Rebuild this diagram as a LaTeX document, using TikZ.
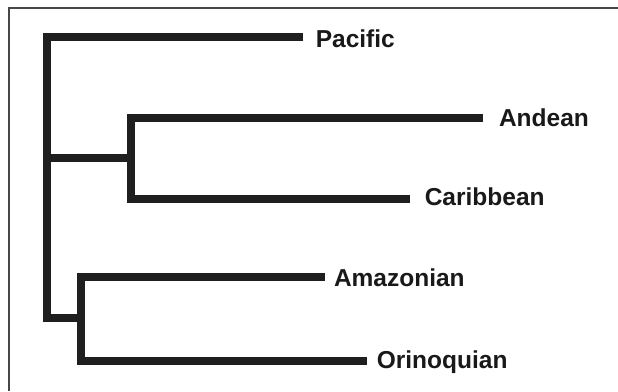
\documentclass[tikz,border=0pt]{standalone}
\usepackage{fontspec}
\setmainfont{Liberation Sans}
\begin{document}
\begin{tikzpicture}[x=1pt,y=-1pt,
  branch/.style={draw=black!88,line width=8pt,line join=miter,line cap=butt},
  frameline/.style={draw=black!72,line width=1.6pt},
  taxon/.style={anchor=base west,inner sep=0pt,outer sep=0pt,text=black!90,
    font=\bfseries\fontsize{24.5}{29}\selectfont}]
\useasboundingbox (0,0) rectangle (618,391);
\fill[white] (0,0) rectangle (618,391);
% frame
\coordinate (fbl) at (9,391);
\coordinate (ftl) at (9,8);
\coordinate (ftr) at (618,8);
\draw[frameline] (fbl) -- (ftl) -- (ftr);
% tree points
\coordinate (pacend) at (303.3,36.5);
\coordinate (roottop) at (47.3,36.5);
\coordinate (rootbot) at (47.3,318);
\coordinate (amzroot) at (81.3,318);
\coordinate (rootmid) at (47.3,157.5);
\coordinate (androot) at (130.8,157.5);
\coordinate (andend) at (483.3,117.5);
\coordinate (andtop) at (130.8,117.5);
\coordinate (caribot) at (130.8,199);
\coordinate (carend) at (410,199);
\coordinate (amzend) at (325,277);
\coordinate (amztop) at (81.3,277);
\coordinate (oribot) at (81.3,361);
\coordinate (oriend) at (366.7,361);
% branches
\draw[branch] (pacend) -- (roottop) -- (rootbot) -- (amzroot);
\draw[branch] (rootmid) -- (androot);
\draw[branch] (andend) -- (andtop) -- (caribot) -- (carend);
\draw[branch] (amzend) -- (amztop) -- (oribot) -- (oriend);
% labels
\node[taxon] (pacific) at (315.8,47.3) {Pacific};
\node[taxon] (andean) at (499,126.7) {Andean};
\node[taxon] (caribbean) at (424.8,205) {Caribbean};
\node[taxon] (amazonian) at (334,286.7) {Amazonian};
\node[taxon] (orinoquian) at (376.8,368.3) {Orinoquian};
\end{tikzpicture}
\end{document}
